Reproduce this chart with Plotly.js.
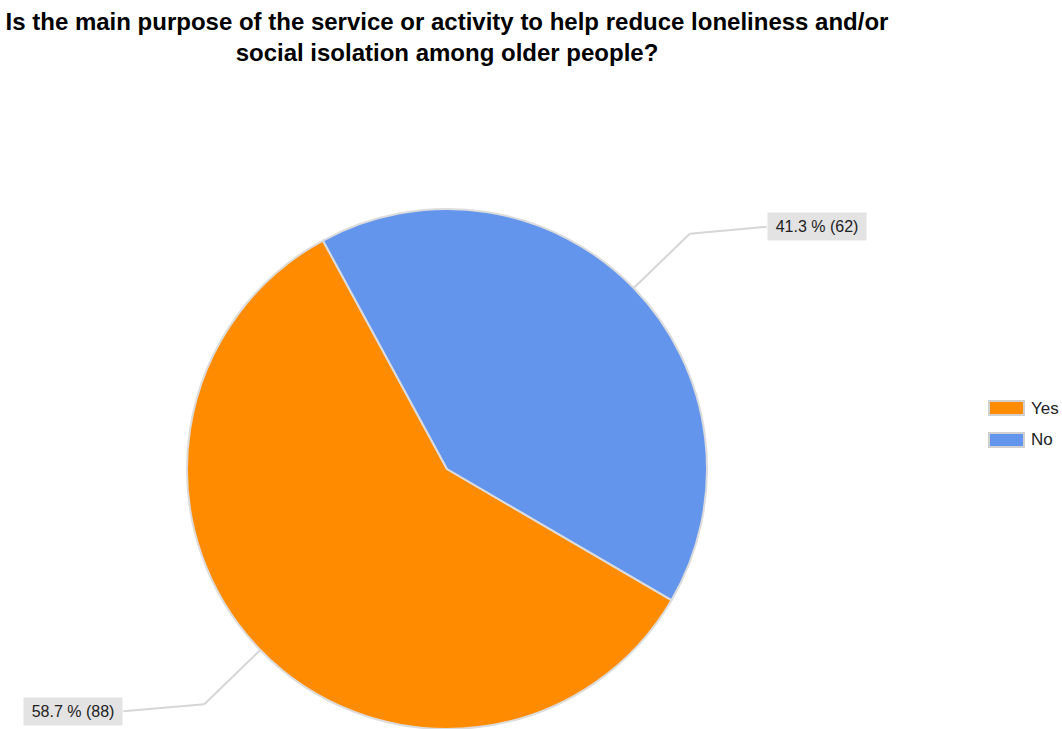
<!DOCTYPE html>
<html><head><meta charset="utf-8">
<script src="https://cdn.plot.ly/plotly-3.0.1.min.js"></script>
<style>html,body{margin:0;padding:0;overflow:hidden;background:#fff}</style>
</head><body><div id="chart" style="width:1062px;height:729px"></div>
<script>
// ---- data ----
const categories = ['Yes', 'No'];
const counts = [88, 62];
const colors = ['#FF8C00', '#6495ED'];
const titleText = 'Is the main purpose of the service or activity to help reduce loneliness and/or<br>social isolation among older people?';

// ---- layout geometry ----
const W = 1062, H = 729;
const dom = {x0: 187, x1: 707, y0: 209, y1: 729};
const cx = (dom.x0 + dom.x1) / 2, cy = (dom.y0 + dom.y1) / 2;
const R = Math.min(dom.x1 - dom.x0, dom.y1 - dom.y0) / 2;
const rotation = 120.3;
const FONT = 'Arial, "Liberation Sans", sans-serif';
const px2x = p => p / W, py2y = p => 1 - p / H;

const total = counts.reduce((a, b) => a + b, 0);
const shapes = [], annotations = [];
let ang = rotation;
counts.forEach((v, i) => {
  const span = v / total * 360;
  const mid = (ang + span / 2) * Math.PI / 180;
  ang += span;
  const ex = cx + R * Math.sin(mid), ey = cy - R * Math.cos(mid);
  const bx = cx + 1.3 * R * Math.sin(mid), by = cy - 1.3 * R * Math.cos(mid);
  const right = Math.sin(mid) >= 0;
  const lx = bx + (right ? 77 : -81), ly = by + (right ? -7 : 7);
  const lineStyle = {color: '#d6d6d6', width: 2};
  shapes.push({type: 'line', xref: 'paper', yref: 'paper', x0: px2x(ex), y0: py2y(ey), x1: px2x(bx), y1: py2y(by), line: lineStyle});
  shapes.push({type: 'line', xref: 'paper', yref: 'paper', x0: px2x(bx), y0: py2y(by), x1: px2x(lx), y1: py2y(ly), line: lineStyle});
  annotations.push({
    xref: 'paper', yref: 'paper', x: px2x(lx), y: py2y(ly),
    xanchor: right ? 'left' : 'right', yanchor: 'middle', showarrow: false,
    text: (v / total * 100).toFixed(1) + ' % (' + v + ')',
    font: {family: FONT, size: 16, color: '#222222'},
    bgcolor: '#e3e3e3', borderpad: 3, width: 92, height: 21, align: 'center'
  });
  // custom legend entry
  const ly2 = 408 + 32 * i;
  shapes.push({type: 'rect', xref: 'paper', yref: 'paper', x0: px2x(989), x1: px2x(1024), y0: py2y(ly2 - 7), y1: py2y(ly2 + 7),
    fillcolor: colors[i], line: {color: '#d0d0d0', width: 2}});
  annotations.push({xref: 'paper', yref: 'paper', x: px2x(1029), y: py2y(ly2), xanchor: 'left', yanchor: 'middle', showarrow: false,
    text: categories[i], font: {family: FONT, size: 17, color: '#222222'}});
});

const trace = {
  type: 'pie', labels: categories, values: counts, sort: false, direction: 'clockwise', rotation: rotation,
  marker: {colors: colors, line: {color: '#dcdcdc', width: 2}},
  textinfo: 'none', showlegend: false,
  domain: {x: [px2x(dom.x0), px2x(dom.x1)], y: [py2y(dom.y1), py2y(dom.y0)]}
};

const layout = {
  width: W, height: H, margin: {l: 0, r: 0, t: 0, b: 0},
  paper_bgcolor: '#ffffff', plot_bgcolor: '#ffffff',
  title: {text: titleText, x: px2x(447), xref: 'paper', xanchor: 'center', y: 1 - 30 / H, yref: 'container', yanchor: 'top',
    font: {family: FONT, size: 24, weight: 'bold', color: '#000000'}},
  showlegend: false, shapes: shapes, annotations: annotations
};
Plotly.newPlot('chart', [trace], layout, {displayModeBar: false, staticPlot: true});
</script></body></html>
